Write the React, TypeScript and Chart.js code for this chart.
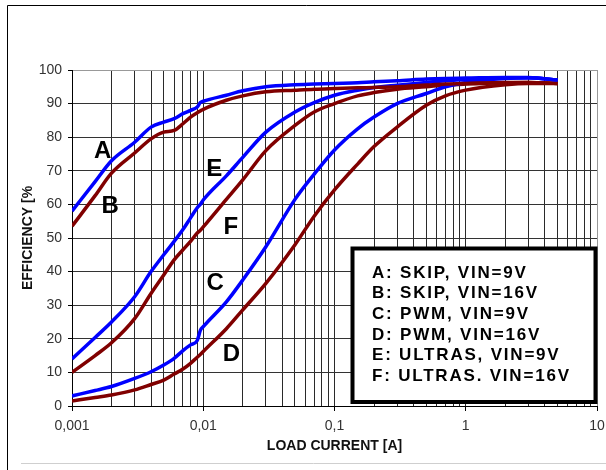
import React, { useEffect, useRef } from 'react';
import { Chart, registerables } from 'chart.js';

Chart.register(...registerables);

// ---- data (load current in A, efficiency in %) ----
const currents = [
  0.001, 0.0015, 0.002, 0.003, 0.004, 0.005, 0.006, 0.007, 0.008, 0.009, 0.0095,
  0.01, 0.015, 0.02, 0.03, 0.05, 0.07, 0.1, 0.15, 0.2, 0.3, 0.5, 0.7, 1, 2, 3, 5,
];
const effA = [58, 66.8, 73, 78.5, 83, 84.5, 85.5, 87, 88, 89, 90.3, 90.7, 92.5, 93.8, 95, 95.6, 95.8, 96, 96.2, 96.5, 96.8, 97.3, 97.5, 97.6, 97.8, 97.8, 97];
const effB = [53.5, 62.6, 69.3, 75.3, 79.5, 81.5, 82, 84, 86, 87.3, 87.8, 88.3, 91, 92.3, 93.5, 94, 94.3, 94.5, 94.7, 94.8, 95, 95.5, 95.8, 96, 96.3, 96.3, 96];
const effC = [3, 4.6, 5.8, 8.2, 10.2, 12.2, 14.2, 16.5, 18.2, 19.5, 22.5, 23.6, 31, 37.5, 47.4, 61.5, 69, 76.2, 82.5, 86, 90, 93, 95, 96.3, 97.5, 97.7, 97];
const effD = [1.5, 2.55, 3.3, 4.8, 6.4, 7.7, 9.5, 11, 12.7, 14.5, 15.3, 16.2, 23, 28.6, 36.5, 48, 56.5, 64.3, 72, 77.2, 83, 89.5, 92.3, 94, 95.6, 96, 96];
const effE = [14, 20.4, 25, 32.5, 40, 45, 49, 52.5, 56, 59, 60, 61.3, 68.5, 74, 81.5, 87.5, 90.3, 92.5, 94, 94.8, 95.5, 96.3, 96.8, 97.2, 97.6, 97.7, 97];
const effF = [10, 15, 18.8, 26, 33.5, 39, 43.5, 46.5, 49, 51.5, 52.3, 53.3, 61.5, 67.3, 76, 83.5, 87.5, 90, 92.3, 93.3, 94.3, 95, 95.5, 95.8, 96.2, 96.3, 96];

const seriesLabels = [
  'A: SKIP, VIN=9V',
  'B: SKIP, VIN=16V',
  'C: PWM, VIN=9V',
  'D: PWM, VIN=16V',
  'E: ULTRAS, VIN=9V',
  'F: ULTRAS. VIN=16V',
];
const seriesColors = ['#0000ff', '#800000', '#0000ff', '#800000', '#0000ff', '#800000'];
const seriesValues = [effA, effB, effC, effD, effE, effF];

// curve letters placed in data coordinates
const curveLetters = ['A', 'B', 'C', 'D', 'E', 'F'];
const letterX = [0.00171, 0.00195, 0.01235, 0.01636, 0.01213, 0.01622];
const letterY = [76, 59.7, 36.9, 15.8, 70.7, 53.4];

const xDecades = [0.001, 0.01, 0.1, 1, 10];
const xTickLabels = ['0,001', '0,01', '0,1', '1', '10'];
const yMin = 0;
const yMax = 100;
const yStep = 10;

const FONT = "'Liberation Sans', Arial, sans-serif";

function buildXTicks() {
  const ticks: { value: number; major: boolean }[] = [];
  for (let i = 0; i < xDecades.length - 1; i++) {
    for (let m = 1; m <= 9; m++) {
      ticks.push({ value: xDecades[i] * m, major: m === 1 });
    }
  }
  ticks.push({ value: xDecades[xDecades.length - 1], major: true });
  return ticks;
}

function decadeIndex(v: number) {
  return xDecades.findIndex((d) => Math.abs(Math.log10(d) - Math.log10(v)) < 1e-6);
}

const framePlugin = {
  id: 'frame',
  beforeDraw(chart: any) {
    const ctx = chart.ctx;
    ctx.save();
    ctx.fillStyle = '#ffffff';
    ctx.fillRect(0, 0, chart.width, chart.height);
    ctx.strokeStyle = '#000';
    ctx.lineWidth = 1;
    ctx.beginPath();
    ctx.moveTo(7.5, 470);
    ctx.lineTo(7.5, 5.5);
    ctx.lineTo(606, 5.5);
    ctx.stroke();
    ctx.strokeStyle = '#cfcfcf';
    ctx.beginPath();
    ctx.moveTo(21, 463.5);
    ctx.lineTo(606, 463.5);
    ctx.stroke();
    ctx.restore();
  },
};

const annotationPlugin = {
  id: 'annot',
  afterDatasetsDraw(chart: any) {
    const ctx = chart.ctx;
    const xs = chart.scales.x;
    const ys = chart.scales.y;
    ctx.save();
    // curve letters
    ctx.fillStyle = '#000';
    ctx.font = `bold 24px ${FONT}`;
    ctx.textAlign = 'center';
    ctx.textBaseline = 'middle';
    curveLetters.forEach((l, i) => {
      ctx.fillText(l, xs.getPixelForValue(letterX[i]), ys.getPixelForValue(letterY[i]) + 1);
    });
    // legend box
    const bx = 352.5, by = 248.5, bw = 243, bh = 153.5;
    ctx.fillStyle = '#fff';
    ctx.fillRect(bx, by, bw, bh);
    ctx.strokeStyle = '#000';
    ctx.lineWidth = 4;
    ctx.strokeRect(bx, by, bw, bh);
    ctx.fillStyle = '#000';
    ctx.font = `bold 17px ${FONT}`;
    (ctx as any).letterSpacing = '1.8px';
    ctx.textAlign = 'left';
    ctx.textBaseline = 'middle';
    seriesLabels.forEach((t, i) => {
      ctx.fillText(t, 372, 273 + i * 20.7);
    });
    ctx.restore();
  },
};

export default function App() {
  const ref = useRef<HTMLCanvasElement | null>(null);
  useEffect(() => {
    if (!ref.current) return;
    Chart.defaults.font.family = FONT;
    const chart = new Chart(ref.current, {
      type: 'scatter',
      data: {
        datasets: seriesValues.map((vals, i) => ({
          label: seriesLabels[i],
          data: vals.map((y, j) => ({ x: currents[j], y })),
          showLine: true,
          borderColor: seriesColors[i],
          backgroundColor: seriesColors[i],
          borderWidth: 3.5,
          pointRadius: 0,
          cubicInterpolationMode: 'monotone' as const,
          tension: 0.4,
        })),
      },
      options: {
        animation: false,
        responsive: false,
        devicePixelRatio: 1,
        layout: { padding: { left: 20, top: 70, right: 9, bottom: 0 } },
        plugins: { legend: { display: false }, tooltip: { enabled: false } },
        scales: {
          x: {
            type: 'logarithmic',
            min: 0.001,
            max: 10,
            afterBuildTicks: (scale: any) => {
              scale.ticks = buildXTicks();
            },
            afterFit: (scale: any) => {
              scale.height = 64;
              scale.paddingLeft = 0;
              scale.paddingRight = 0;
            },
            ticks: {
              autoSkip: false,
              maxRotation: 0,
              padding: 7,
              color: '#333',
              font: { size: 14 },
              callback: (value: any) => {
                const di = decadeIndex(Number(value));
                return di >= 0 ? xTickLabels[di] : '';
              },
            },
            grid: {
              color: (c: any) => {
                const v = c.tick ? c.tick.value : 0;
                return Math.abs(v - 10) < 1e-9 ? '#999' : '#2a2a2a';
              },
              lineWidth: 1,
              tickLength: 5,
              tickColor: (c: any) => {
                const v = c.tick ? c.tick.value : 0;
                return decadeIndex(v) >= 0 ? '#000' : 'rgba(0,0,0,0)';
              },
            },
            border: { display: true, color: '#000', width: 1 },
            title: {
              display: true,
              text: 'LOAD CURRENT [A]',
              color: '#111',
              font: { size: 14, weight: 'bold' },
              padding: { top: 0, bottom: 15 },
            },
          },
          y: {
            type: 'linear',
            min: yMin,
            max: yMax,
            afterFit: (scale: any) => {
              scale.width = 52;
              scale.paddingTop = 0;
              scale.paddingBottom = 0;
            },
            ticks: {
              stepSize: yStep,
              padding: 6,
              color: '#333',
              font: { size: 14 },
            },
            grid: {
              color: (c: any) => {
                const v = c.tick ? c.tick.value : 0;
                return v === yMax ? '#999' : '#333';
              },
              lineWidth: 1,
              tickLength: 4,
              tickColor: '#000',
            },
            border: { display: true, color: '#000', width: 1 },
            title: {
              display: true,
              text: 'EFFICIENCY [%',
              color: '#111',
              font: { size: 14, weight: 'bold' },
              padding: { top: 0, bottom: 0 },
            },
          },
        },
      },
      plugins: [framePlugin, annotationPlugin],
    });
    return () => chart.destroy();
  }, []);
  return (
    <div style={{ position: 'absolute', left: 0, top: 0, width: 606, height: 470 }}>
      <canvas ref={ref} width={606} height={470} style={{ display: 'block' }} />
    </div>
  );
}
